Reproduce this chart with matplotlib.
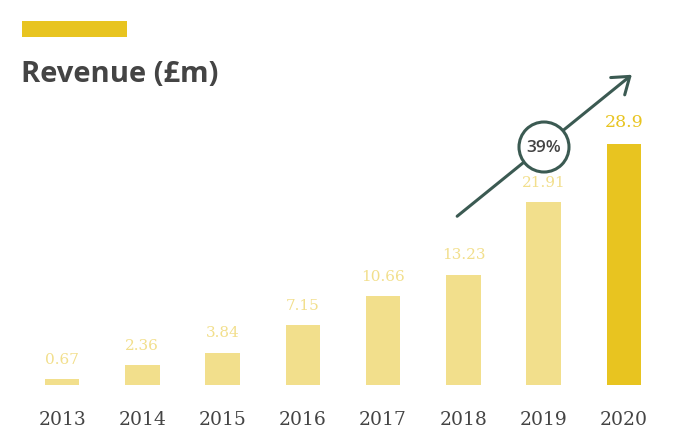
import matplotlib
matplotlib.use("Agg")
import matplotlib.pyplot as plt
from matplotlib.patches import Circle, Rectangle, FancyArrowPatch

YEARS = ["2013", "2014", "2015", "2016", "2017", "2018", "2019", "2020"]
REVENUE = [0.67, 2.36, 3.84, 7.15, 10.66, 13.23, 21.91, 28.9]
LABELS = ["0.67", "2.36", "3.84", "7.15", "10.66", "13.23", "21.91", "28.9"]
GROWTH = "39%"

LIGHT, GOLD, INK, GREEN = "#F2DF8C", "#E8C420", "#444444", "#3B5A52"

W, H = 677, 430
fig = plt.figure(figsize=(W / 100, H / 100), dpi=100)

# bar axes: x centres every ~80px, baseline at y=385px
ax = fig.add_axes([22 / W, 45 / H, 642 / W, 333.6 / H])
ax.set_xlim(-0.5, 7.5)
ax.set_ylim(0, 40)
ax.axis("off")
colors = [LIGHT] * (len(YEARS) - 1) + [GOLD]
x = range(len(YEARS))
ax.bar(x, REVENUE, width=0.43, color=colors, edgecolor="none")
for i, (v, lab) in enumerate(zip(REVENUE, LABELS)):
    last = i == len(YEARS) - 1
    ax.annotate(lab, (i, v), xytext=(0, 9), textcoords="offset points",
                ha="center", va="bottom", family="DejaVu Serif",
                fontsize=12.5 if last else 11, color=GOLD if last else LIGHT)
    ax.annotate(YEARS[i], (i, 0), xytext=(0, -19), textcoords="offset points",
                ha="center", va="top", family="DejaVu Serif",
                fontsize=13.5, color=INK)

# overlay in pixel coordinates for decorations
ov = fig.add_axes([0, 0, 1, 1])
ov.set_xlim(0, W)
ov.set_ylim(H, 0)
ov.axis("off")
ov.add_patch(Rectangle((22, 21), 105, 16, facecolor=GOLD, edgecolor="none"))
ov.text(21, 74, "Revenue (£m)", ha="left", va="center", family="Open Sans",
        fontweight="bold", fontsize=21, color=INK)

ov.add_patch(FancyArrowPatch((455, 218), (634, 73), arrowstyle="->,head_length=7,head_width=5",
                             color=GREEN, lw=2.2, mutation_scale=1.6))
ov.add_patch(Circle((544, 147), 25, facecolor="white", edgecolor=GREEN, lw=2.2, zorder=5))
ov.text(544, 148, GROWTH, ha="center", va="center", fontsize=12.5, color=INK,
        family="Open Sans", fontweight="semibold", zorder=6)

fig.savefig("out.png", dpi=100)
